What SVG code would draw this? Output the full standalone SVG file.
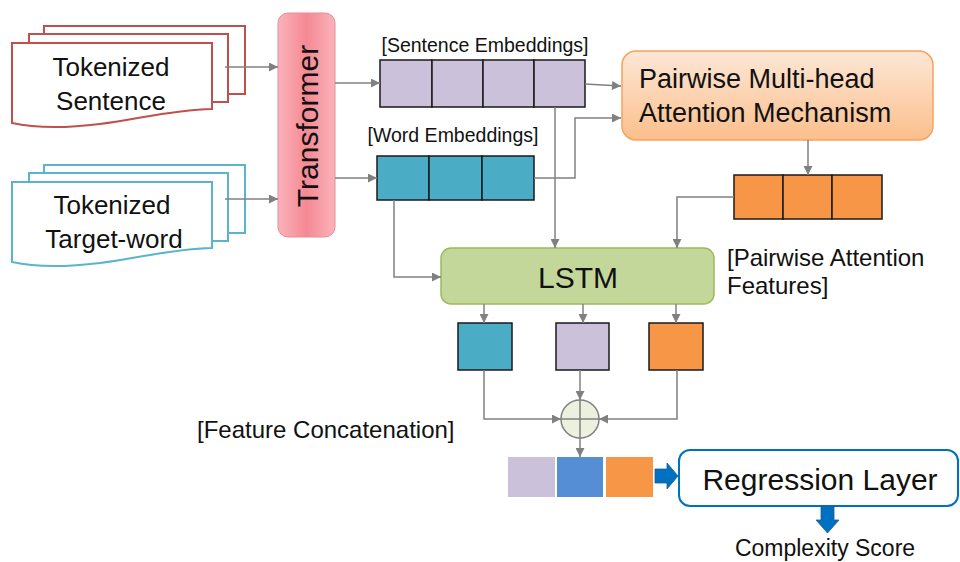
<svg xmlns="http://www.w3.org/2000/svg" width="960" height="562" viewBox="0 0 960 562">
<defs>
<marker id="ah" viewBox="0 0 10 10" refX="10" refY="5" markerWidth="10" markerHeight="9" markerUnits="userSpaceOnUse" orient="auto"><path d="M0,0 L10,5 L0,10 z" fill="#808080"/></marker>
<linearGradient id="gT" x1="0" y1="0" x2="1" y2="0"><stop offset="0" stop-color="#fbb3ba"/><stop offset="0.5" stop-color="#f48994"/><stop offset="1" stop-color="#fbb3ba"/></linearGradient>
<linearGradient id="gP" x1="0" y1="0" x2="0" y2="1"><stop offset="0" stop-color="#fde7d6"/><stop offset="1" stop-color="#fbbf8c"/></linearGradient>
<style>
text{font-family:"Liberation Sans",Arial,sans-serif;fill:#111}
.conn{fill:none;stroke:#808080;stroke-width:1.5}
.arr{marker-end:url(#ah)}
.cell{stroke:#1a1a1a;stroke-width:1.5}
.red{fill:#fff;stroke:#c0504d;stroke-width:2}
.blu{fill:#fff;stroke:#5ab4cc;stroke-width:2}
.lav{fill:#cbc1da}
.teal{fill:#4bacc6}
.org{fill:#f79646}
.bl{fill:#0070c0;stroke:#1f5c99;stroke-width:0.8}
</style>
</defs>

<g id="tokenized-sentence">
<rect class="red" x="44" y="26" width="201" height="68"/>
<rect class="red" x="29" y="34" width="199" height="68"/>
<path class="red" d="M12,43 H212 V109 C170,110 140,119 100,124 C60,129 30,127 12,123 Z"/>
<text x="111" y="76" font-size="26" text-anchor="middle">Tokenized</text>
<text x="111" y="110" font-size="26" text-anchor="middle">Sentence</text>
</g>

<g id="tokenized-target" transform="translate(0,139)">
<rect class="blu" x="44" y="26" width="201" height="68"/>
<rect class="blu" x="29" y="34" width="199" height="68"/>
<path class="blu" d="M12,43 H212 V109 C170,110 140,119 100,124 C60,129 30,127 12,123 Z"/>
</g>
<g id="tokenized-target-text">
<text x="112" y="214" font-size="26" text-anchor="middle">Tokenized</text>
<text x="114" y="248" font-size="26" text-anchor="middle">Target-word</text>
</g>

<g id="transformer">
<rect x="278" y="13" width="57" height="224" rx="10" fill="url(#gT)" stroke="#e98b95" stroke-width="1"/>
<text x="0" y="0" font-size="30" text-anchor="middle" transform="translate(318,126) rotate(-90)">Transformer</text>
</g>

<g id="sentence-embeddings">
<text x="485" y="52" font-size="19.5" text-anchor="middle">[Sentence Embeddings]</text>
<rect class="cell lav" x="380" y="60" width="52" height="47"/>
<rect class="cell lav" x="432" y="60" width="51" height="47"/>
<rect class="cell lav" x="483" y="60" width="51" height="47"/>
<rect class="cell lav" x="534" y="60" width="51" height="47"/>
</g>

<g id="word-embeddings">
<text x="453" y="142" font-size="19.5" text-anchor="middle">[Word Embeddings]</text>
<rect class="cell teal" x="377" y="156" width="52" height="44"/>
<rect class="cell teal" x="429" y="156" width="53" height="44"/>
<rect class="cell teal" x="482" y="156" width="52" height="44"/>
</g>

<g id="pairwise-attention">
<rect x="622" y="51" width="311" height="89" rx="14" fill="url(#gP)" stroke="#f6a25e" stroke-width="1.5"/>
<text x="639" y="88" font-size="27">Pairwise Multi-head</text>
<text x="639" y="122" font-size="27">Attention Mechanism</text>
</g>

<g id="attention-features">
<rect class="cell org" x="734" y="175" width="49" height="44"/>
<rect class="cell org" x="783" y="175" width="49" height="44"/>
<rect class="cell org" x="832" y="175" width="50" height="44"/>
<text x="727" y="266" font-size="24">[Pairwise Attention</text>
<text x="727" y="294" font-size="24">Features]</text>
</g>

<g id="lstm">
<rect x="441" y="248" width="273" height="56" rx="10" fill="#c4d79b" stroke="#9bbb59" stroke-width="1.5"/>
<text x="578" y="288" font-size="30" text-anchor="middle">LSTM</text>
</g>

<g id="lstm-outputs">
<rect class="cell teal" x="458" y="323" width="54" height="47"/>
<rect class="cell lav" x="556" y="323" width="53" height="47"/>
<rect class="cell org" x="649" y="323" width="54" height="47"/>
</g>

<g id="concat-op">
<circle cx="580" cy="419" r="19" fill="#ebf1de" stroke="#808080" stroke-width="1.5"/>
<path d="M580,400 V438 M561,419 H599" stroke="#808080" stroke-width="1.5"/>
<text x="197" y="438" font-size="24">[Feature Concatenation]</text>
</g>

<g id="concat-vector">
<rect class="lav" x="508" y="457" width="47" height="40"/>
<rect x="557" y="457" width="46" height="40" fill="#558ed5"/>
<rect class="org" x="606" y="457" width="47" height="40"/>
</g>

<g id="regression">
<rect x="679" y="450" width="279" height="56" rx="11" fill="#fff" stroke="#0070c0" stroke-width="2"/>
<text x="820" y="490" font-size="30" text-anchor="middle">Regression Layer</text>
</g>

<g id="complexity-score">
<text x="825" y="556" font-size="23" text-anchor="middle">Complexity Score</text>
</g>

<g id="connectors">
<path class="conn arr" d="M225,67 H278"/>
<path class="conn arr" d="M225,199 H278"/>
<path class="conn arr" d="M335,83 H380"/>
<path class="conn arr" d="M335,178 H377"/>
<path class="conn arr" d="M585,84 L621,86"/>
<path class="conn arr" d="M534,178 H575 V118 H621"/>
<path class="conn arr" d="M808,140 V175"/>
<path class="conn arr" d="M555,107 V248"/>
<path class="conn arr" d="M734,197 H677 V248"/>
<path class="conn arr" d="M394,200 V277 H441"/>
<path class="conn arr" d="M484,304 V323"/>
<path class="conn arr" d="M583,304 V323"/>
<path class="conn arr" d="M676,304 V323"/>
<path class="conn arr" d="M484,370 V419 H561"/>
<path class="conn arr" d="M580,370 V400"/>
<path class="conn arr" d="M677,370 V419 H599"/>
<path class="conn arr" d="M580,438 V457"/>
<polygon class="bl" points="655,469 667,469 667,463 678,476 667,489 667,483 655,483"/>
<polygon class="bl" points="821,506 834,506 834,520 839,520 827.5,533 816,520 821,520"/>
</g>
</svg>
